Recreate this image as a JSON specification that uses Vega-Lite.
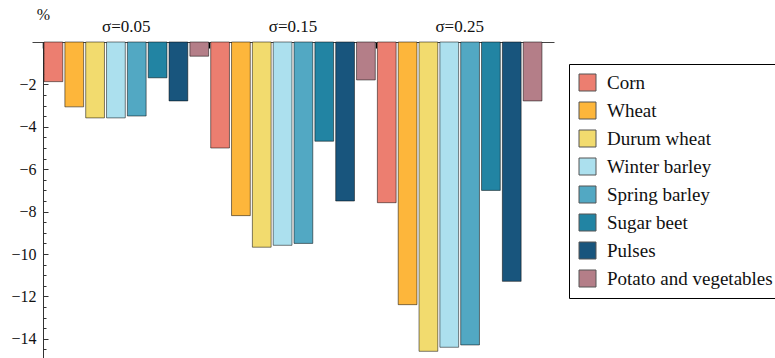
{
  "$schema": "https://vega.github.io/schema/vega-lite/v6.json",
  "width": 522,
  "height": 318,
  "autosize": {"type": "none"},
  "padding": {"left": 32, "top": 42, "right": 221, "bottom": 0},
  "background": "white",
  "config": {"view": {"stroke": null}, "font": "'Liberation Serif', 'Times New Roman', 'DejaVu Serif', serif"},
  "data": {
    "values": [
      {"sigma": "σ=0.05", "crop": "Corn", "value": -1.87},
      {"sigma": "σ=0.05", "crop": "Wheat", "value": -3.06},
      {"sigma": "σ=0.05", "crop": "Durum wheat", "value": -3.58},
      {"sigma": "σ=0.05", "crop": "Winter barley", "value": -3.58},
      {"sigma": "σ=0.05", "crop": "Spring barley", "value": -3.49},
      {"sigma": "σ=0.05", "crop": "Sugar beet", "value": -1.69},
      {"sigma": "σ=0.05", "crop": "Pulses", "value": -2.78},
      {"sigma": "σ=0.05", "crop": "Potato and vegetables", "value": -0.67},
      {"sigma": "σ=0.15", "crop": "Corn", "value": -5.0},
      {"sigma": "σ=0.15", "crop": "Wheat", "value": -8.19},
      {"sigma": "σ=0.15", "crop": "Durum wheat", "value": -9.68},
      {"sigma": "σ=0.15", "crop": "Winter barley", "value": -9.59},
      {"sigma": "σ=0.15", "crop": "Spring barley", "value": -9.5},
      {"sigma": "σ=0.15", "crop": "Sugar beet", "value": -4.68},
      {"sigma": "σ=0.15", "crop": "Pulses", "value": -7.5},
      {"sigma": "σ=0.15", "crop": "Potato and vegetables", "value": -1.79},
      {"sigma": "σ=0.25", "crop": "Corn", "value": -7.58},
      {"sigma": "σ=0.25", "crop": "Wheat", "value": -12.39},
      {"sigma": "σ=0.25", "crop": "Durum wheat", "value": -14.59},
      {"sigma": "σ=0.25", "crop": "Winter barley", "value": -14.4},
      {"sigma": "σ=0.25", "crop": "Spring barley", "value": -14.29},
      {"sigma": "σ=0.25", "crop": "Sugar beet", "value": -7.0},
      {"sigma": "σ=0.25", "crop": "Pulses", "value": -11.29},
      {"sigma": "σ=0.25", "crop": "Potato and vegetables", "value": -2.78}
    ]
  },
  "encoding": {
    "x": {
      "field": "sigma", "type": "nominal", "sort": null,
      "scale": {"paddingInner": 0, "paddingOuter": 0.066},
      "axis": {
        "orient": "top", "title": null, "labelAngle": 0,
        "labelFont": "'Liberation Serif', 'Times New Roman', serif", "labelFontSize": 17, "labelColor": "#111",
        "domainColor": "#444", "domainWidth": 1,
        "tickColor": "#000", "tickWidth": 1.5, "tickSize": -6, "bandPosition": 0,
        "labelPadding": 13
      }
    },
    "xOffset": {
      "field": "crop", "type": "nominal",
      "sort": ["Corn", "Wheat", "Durum wheat", "Winter barley", "Spring barley", "Sugar beet", "Pulses", "Potato and vegetables"],
      "scale": {"paddingInner": 0.1, "paddingOuter": 0.05}
    }
  },
  "resolve": {"axis": {"y": "independent"}},
  "layer": [
    {
      "mark": {"type": "bar", "opacity": 0},
      "encoding": {
        "y": {
          "field": "value", "type": "quantitative",
          "scale": {"domain": [-15, 0], "nice": false},
          "axis": {
            "orient": "left", "offset": -11, "labels": false, "title": null, "grid": false, "domain": false,
            "values": [-15, -14.5, -14, -13.5, -13, -12.5, -12, -11.5, -11, -10.5, -10, -9.5, -9, -8.5, -8, -7.5, -7, -6.5, -6, -5.5, -5, -4.5, -4, -3.5, -3, -2.5, -2, -1.5, -1, -0.5, 0],
            "tickSize": -3, "tickColor": "#333", "tickWidth": 1
          }
        }
      }
    },
    {
      "mark": {"type": "bar", "stroke": "#000", "strokeOpacity": 0.5, "strokeWidth": 1},
      "encoding": {
        "y": {
          "field": "value", "type": "quantitative",
          "scale": {"domain": [-15, 0], "nice": false},
          "axis": {
            "orient": "left", "offset": -11, "grid": false,
            "values": [-14, -12, -10, -8, -6, -4, -2],
            "title": "%", "titleAngle": 0, "titleX": 0, "titleY": -23, "titleAlign": "center",
            "titleBaseline": "alphabetic", "titleFont": "'Liberation Serif', 'Times New Roman', serif", "titleFontWeight": "normal",
            "titleFontSize": 16, "titleColor": "#111",
            "labelFont": "'Liberation Serif', 'Times New Roman', serif", "labelFontSize": 16, "labelColor": "#111",
            "labelPadding": 12, "tickSize": -5, "tickColor": "#333", "domainColor": "#333"
          }
        },
        "color": {
          "field": "crop", "type": "nominal",
          "sort": ["Corn", "Wheat", "Durum wheat", "Winter barley", "Spring barley", "Sugar beet", "Pulses", "Potato and vegetables"],
          "scale": {
            "domain": ["Corn", "Wheat", "Durum wheat", "Winter barley", "Spring barley", "Sugar beet", "Pulses", "Potato and vegetables"],
            "range": ["#EC7E70", "#FDB63B", "#F2DB6E", "#ACE0EE", "#52A8C3", "#2284A3", "#18557D", "#B47E88"]
          },
          "legend": {
            "title": null, "orient": "none", "legendX": 537, "legendY": 22,
            "strokeColor": "#000", "fillColor": "white", "padding": 9,
            "symbolType": "square", "symbolSize": 289, "symbolStrokeColor": "#555", "symbolStrokeWidth": 1,
            "symbolOpacity": 1, "labelFont": "'Liberation Serif', 'Times New Roman', serif", "labelFontSize": 19, "labelColor": "#111",
            "labelOffset": 10, "rowPadding": 7, "labelLimit": 400
          }
        }
      }
    }
  ]
}
